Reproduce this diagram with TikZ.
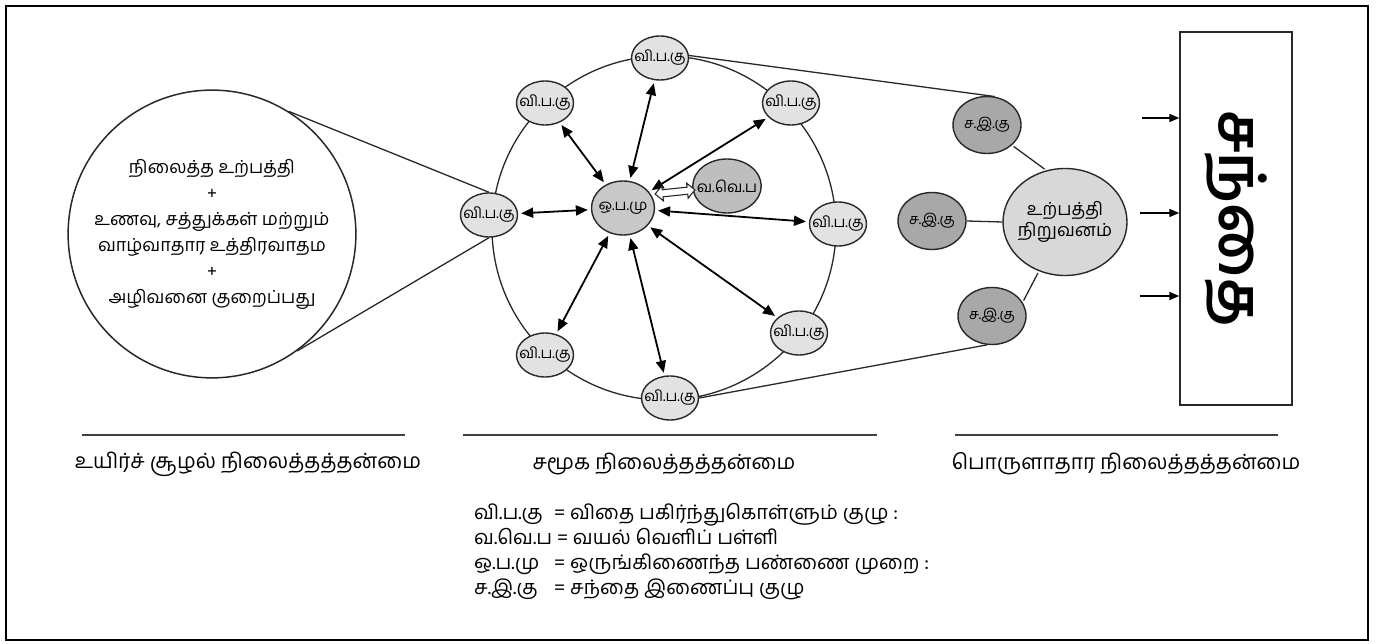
\documentclass[tikz,border=0pt]{standalone}
\usepackage{fontspec}
\usepackage{graphicx}
\usetikzlibrary{shapes.geometric,shapes.arrows,arrows.meta}
\newfontfamily\tamil[Script=Tamil]{Hind Madurai}
\definecolor{vpkgray}{RGB}{226,226,226}
\definecolor{opmgray}{RGB}{200,200,200}
\definecolor{vvpgray}{RGB}{190,190,190}
\definecolor{sikgray}{RGB}{168,168,168}
\definecolor{prodgray}{RGB}{216,216,216}
\definecolor{edgegray}{RGB}{40,40,40}

\begin{document}
\begin{tikzpicture}[x=1pt, y=-1pt, font=\tamil,
    blob/.style={ellipse, draw=edgegray, line width=1.4pt, inner xsep=-6pt, inner ysep=-2pt},
    vpk/.style={blob, fill=vpkgray, minimum width=57pt, minimum height=44pt, font=\tamil\fontsize{15}{17}\selectfont},
    sik/.style={blob, fill=sikgray, minimum width=68pt, minimum height=57pt, font=\tamil\fontsize{14.5}{17}\selectfont},
    link/.style={{Triangle[length=12pt,width=10pt]}-{Triangle[length=12pt,width=10pt]}, line width=1.8pt, draw=black, shorten <=3pt, shorten >=3pt},
    wire/.style={line width=1.3pt, draw=edgegray},
    feed/.style={-{Triangle[length=10pt,width=8pt]}, line width=1.5pt},
    rule/.style={line width=2pt, draw=black!75},
    title/.style={font=\tamil\fontsize{21}{24}\selectfont},
    legend/.style={anchor=base west, inner sep=0pt, font=\tamil\fontsize{20}{22}\selectfont},
  ]
  \useasboundingbox (0,0) rectangle (1381,644);
  \draw[line width=2.5pt] (6,6) rectangle (1368,640);

  % biological side
  \node[circle, draw=edgegray, line width=1.5pt, minimum size=283pt, align=center,
        font=\tamil\fontsize{18}{26}\selectfont] (bio) at (212,234)
    {நிலைத்த உற்பத்தி\\+\\உணவு, சத்துக்கள் மற்றும்\\வாழ்வாதார உத்திரவாதம\\+\\அழிவனை குறைப்பது};

  % social side: ring of seed groups
  \draw[wire] (664,228) circle[radius=172pt];
  \node[vpk] (vt)  at (660,58)  {வி.ப.கு};
  \node[vpk] (vul) at (545,103) {வி.ப.கு};
  \node[vpk] (vur) at (791,103) {வி.ப.கு};
  \node[vpk] (vl)  at (489,215) {வி.ப.கு};
  \node[vpk] (vr)  at (838,224) {வி.ப.கு};
  \node[vpk] (vll) at (545,355) {வி.ப.கு};
  \node[vpk] (vlr) at (799,333) {வி.ப.கு};
  \node[vpk] (vb)  at (670,398) {வி.ப.கு};
  \node[blob, fill=opmgray, minimum width=63pt, minimum height=54pt, font=\tamil\fontsize{15}{17}\selectfont] (opm) at (623,208) {ஒ.ப.மு};
  \node[blob, fill=vvpgray, minimum width=64pt, minimum height=54pt, font=\tamil\fontsize{15.5}{17}\selectfont] (vvp) at (727,186) {வ.வெ.ப};

  \foreach \s in {vt,vul,vur,vl,vr,vll,vlr,vb}
    \draw[link] (opm) -- (\s);
  \node[double arrow, draw=edgegray, line width=1.1pt, fill=white, minimum height=40pt,
        inner xsep=0pt, inner ysep=3pt, double arrow head extend=4pt, rotate=6] (swap) at (675,192) {};

  \draw[wire] (bio.58) -- (vl.north);
  \draw[wire] (bio.-54) -- (vl.south);

  % economic side
  \node[sik] (sik1) at (987,125) {ச.இ.கு};
  \node[sik] (sik2) at (932,221) {ச.இ.கு};
  \node[sik] (sik3) at (992,316) {ச.இ.கு};
  \node[blob, fill=prodgray, minimum width=124pt, minimum height=107pt, align=center,
        font=\tamil\fontsize{18}{21}\selectfont] (prod) at (1065,222) {உற்பத்தி\\நிறுவனம்};
  \draw[wire, shorten <=2pt, shorten >=2pt] (sik1.-39) -- (prod.110);
  \draw[wire] (sik2.east) -- (prod.west);
  \draw[wire, shorten <=2pt, shorten >=2pt] (sik3.24) -- (prod.-118);
  \draw[wire] (vt.5) -- (sik1.75);
  \draw[wire] (vb.east) -- (sik3.-100);

  \node[draw=edgegray, line width=1.4pt, minimum width=112pt, minimum height=373pt, inner sep=0pt] (mkt) at (1236,218.5)
    {\rotatebox{-90}{\fontsize{60}{62}\selectfont\bfseries சந்தை}};
  \coordinate (in1) at (1142,118);
  \coordinate (in2) at (1140,213);
  \coordinate (in3) at (1140,296);
  \foreach \c in {in1,in2,in3}
    \draw[feed] (\c) -- (\c -| mkt.west);

  % headings
  \draw[rule] (82,435) -- (405,435);
  \draw[rule] (463,435) -- (877,435);
  \draw[rule] (955,435) -- (1278,435);
  \node[title] (t1) at (248,464) {உயிர்ச் சூழல் நிலைத்தத்தன்மை};
  \node[title] (t2) at (664,464) {சமூக நிலைத்தத்தன்மை};
  \node[title] (t3) at (1126,464) {பொருளாதார நிலைத்தத்தன்மை};

  % legend
  \node[legend] (lg1) at (474,519) {\makebox[80pt][l]{வி.ப.கு}= விதை பகிர்ந்துகொள்ளும் குழு :};
  \node[legend] (lg2) at (474,544) {வ.வெ.ப = வயல் வெளிப் பள்ளி};
  \node[legend] (lg3) at (474,569) {\makebox[80pt][l]{ஒ.ப.மு}= ஒருங்கிணைந்த பண்ணை முறை :};
  \node[legend] (lg4) at (474,594) {\makebox[80pt][l]{ச.இ.கு}= சந்தை இணைப்பு குழு};
\end{tikzpicture}
\end{document}
